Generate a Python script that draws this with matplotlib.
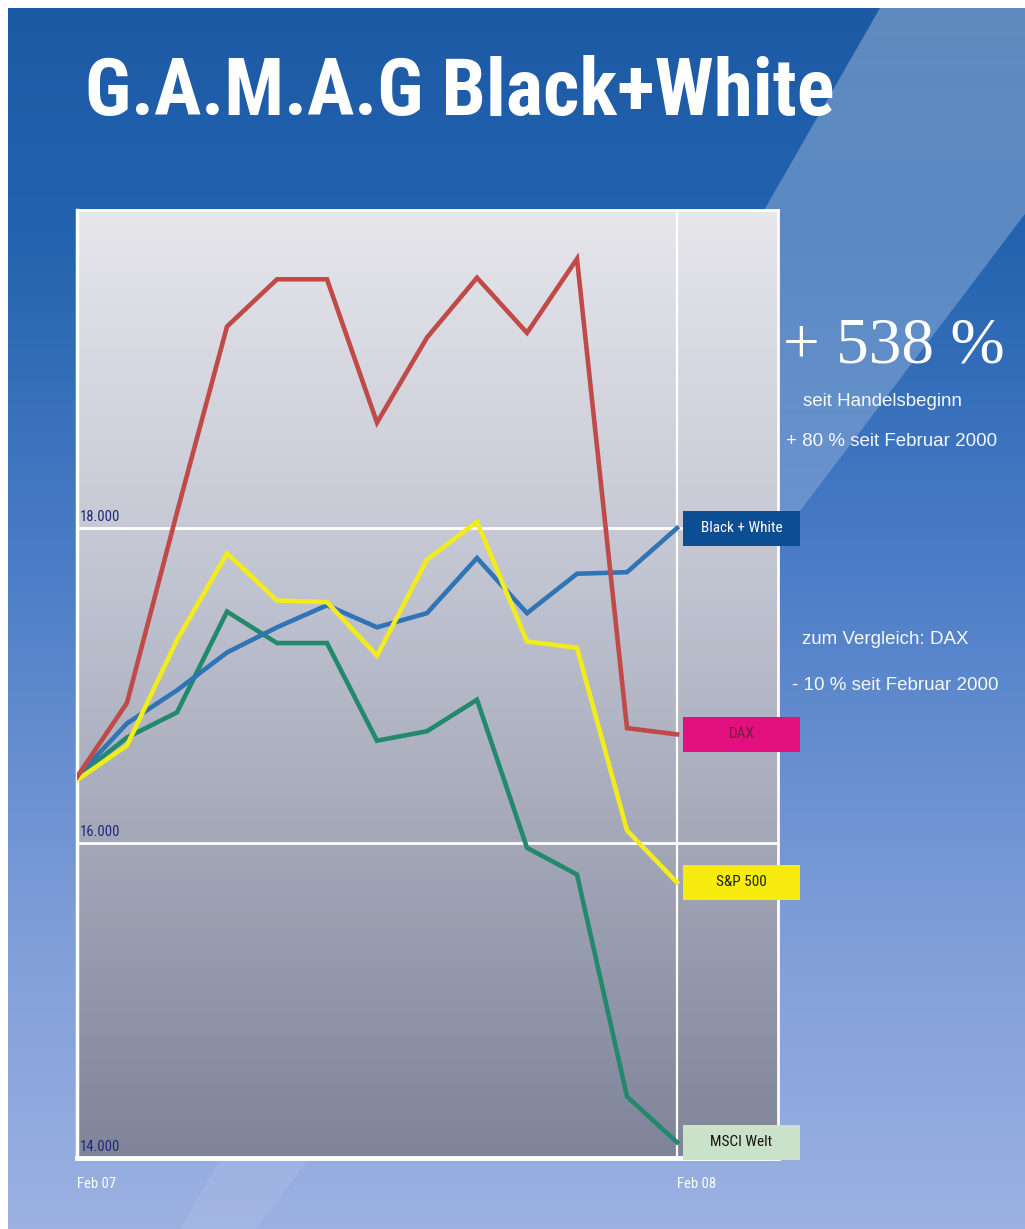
import numpy as np
import matplotlib
matplotlib.use("Agg")
import matplotlib.pyplot as plt
import matplotlib.transforms as mtransforms
from matplotlib.patches import Polygon, Rectangle
from matplotlib.colors import LinearSegmentedColormap
from matplotlib import font_manager as fm

# ---------------- data ----------------
months = ["Feb 07", "Mär 07", "Apr 07", "Mai 07", "Jun 07", "Jul 07", "Aug 07",
          "Sep 07", "Okt 07", "Nov 07", "Dez 07", "Jan 08", "Feb 08"]
x_tick_labels = ["Feb 07", "Feb 08"]
y_ticks = [14000, 16000, 18000]
y_tick_labels = ["14.000", "16.000", "18.000"]

black_white = [16420, 16760, 16970, 17210, 17370, 17510, 17370, 17460, 17810, 17460, 17710, 17720, 18000]
dax = [16420, 16890, 18100, 19280, 19580, 19580, 18670, 19210, 19590, 19240, 19710, 16730, 16690]
sp500 = [16400, 16620, 17290, 17840, 17540, 17530, 17190, 17800, 18040, 17280, 17240, 16080, 15750]
msci_welt = [16420, 16670, 16830, 17470, 17270, 17270, 16650, 16710, 16910, 15970, 15800, 14390, 14100]

series_names = ["MSCI Welt", "Black + White", "S&P 500", "DAX"]
series_values = [msci_welt, black_white, sp500, dax]
line_colors = ["#23896c", "#2f74b5", "#f2ec1c", "#bf4a48"]
box_colors = ["#c9e2c9", "#0c4e93", "#f7ea0e", "#e3117f"]
box_text_colors = ["#111111", "#ffffff", "#222222", "#7a1a3a"]

title = "G.A.M.A.G Black+White"
big_note = "+ 538 %"
notes = ["seit Handelsbeginn", "+ 80 % seit Februar 2000",
         "zum Vergleich: DAX", "- 10 % seit Februar 2000"]

# ---------------- fonts ----------------
names = {f.name for f in fm.fontManager.ttflist}
def pick(cands, default):
    for c in cands:
        if c in names:
            return c
    return default

sans = pick(["Liberation Sans", "Arial", "DejaVu Sans"], "DejaVu Sans")
narrow = pick(["Liberation Sans Narrow", "Roboto Condensed", "DejaVu Sans Condensed"], sans)
serif = pick(["Liberation Serif", "DejaVu Serif"], "DejaVu Serif")
title_font = pick(["Roboto Condensed", "Liberation Sans Narrow", "DejaVu Sans Condensed"], "DejaVu Sans")

W, H = 1025, 1229
fig = plt.figure(figsize=(W / 100, H / 100), dpi=100)

# ---------------- background ----------------
bg = fig.add_axes([0, 0, 1, 1])
bg.set_xlim(0, W)
bg.set_ylim(H, 0)
bg.axis("off")
bg_cmap = LinearSegmentedColormap.from_list(
    "bg", [(0.0, "#1d5aa6"), (0.18, "#2262ae"), (0.45, "#4a7cc6"),
           (0.75, "#7d9dd8"), (1.0, "#9cb1e2")])
grad = np.linspace(0, 1, 400).reshape(-1, 1)
bg.imshow(grad, cmap=bg_cmap, extent=[0, W, H, 0], aspect="auto", zorder=0)

# light diagonal band, fading towards the bottom
stripe = Polygon([(880, 8), (1181, 8), (256, 1229), (180, 1229)], closed=True,
                 facecolor="none", edgecolor="none")
bg.add_patch(stripe)
alpha = np.linspace(0.30, 0.07, 400).reshape(-1, 1)
rgba = np.ones((400, 1, 4))
rgba[..., 3] = alpha
im = bg.imshow(rgba, extent=[0, W, H, 0], aspect="auto", zorder=1)
im.set_clip_path(stripe)

bg.add_patch(Rectangle((0, 0), W, 8, facecolor="white", edgecolor="none", zorder=2))
bg.add_patch(Rectangle((0, 0), 8, H, facecolor="white", edgecolor="none", zorder=2))

# title
t = bg.text(85, 93, title, color="white", fontsize=60, fontweight="bold",
            family=title_font, fontstretch="condensed", va="center", ha="left", zorder=3)
fig.canvas.draw()
ext = t.get_window_extent()
fs = 60 * 750 / ext.width
t.set_fontsize(fs)

# right-hand notes
bg.text(783, 347, big_note, color="white", fontsize=47, family=serif,
        va="center", ha="left", zorder=3)
note_pos = [(803, 402), (786, 441), (802, 640), (792, 686)]
for (px, py), s in zip(note_pos, notes):
    bg.text(px, py, s, color="white", fontsize=13.5, family=sans,
            va="center", ha="left", zorder=3, alpha=0.95)

# ---------------- chart ----------------
ax = fig.add_axes([77 / W, 1 - 1158 / H, (778 - 77) / W, (1158 - 210) / H])
ax.set_zorder(5)
plot_cmap = LinearSegmentedColormap.from_list(
    "plot", [(0.0, "#7f8499"), (0.33, "#a3a7b8"), (0.66, "#c6c9d5"), (1.0, "#e6e6eb")])
ax.imshow(np.linspace(0, 1, 300).reshape(-1, 1), cmap=plot_cmap, origin="lower",
          extent=[0, 1, 0, 1], transform=ax.transAxes, aspect="auto", zorder=0)

x = np.arange(len(months))
ax.set_xlim(0, 14.02)
ax.set_ylim(14000, 20020)

ax.set_yticks(y_ticks)
ax.set_yticklabels([])
ax.tick_params(axis="y", length=0)
ax.grid(axis="y", color="white", linewidth=2, zorder=1)
ax.axvline(x[-1], color="white", linewidth=1.6, zorder=1)

for vals, col in zip(series_values, line_colors):
    ax.plot(x, vals, color=col, linewidth=3.3, solid_joinstyle="miter", zorder=3)

# y tick labels inside the plot
off = mtransforms.offset_copy(ax.transData, fig=fig, x=0, y=4, units="dots")
for v, lab in zip(y_ticks, y_tick_labels):
    ax.text(0.06, v, lab, transform=off, color="#1b2a78", fontsize=10.5,
            family=narrow, va="bottom", ha="left", zorder=4)

# x tick labels
ax.set_xticks([x[0], x[-1]])
ax.set_xticklabels(x_tick_labels, color="white", fontsize=10.5, family=narrow, ha="left")
ax.tick_params(axis="x", length=0, pad=14)

for side, sp in ax.spines.items():
    sp.set_color("white")
    sp.set_linewidth(2)
ax.spines["bottom"].set_linewidth(3.5)
ax.spines["left"].set_linewidth(2.5)

# series label boxes at the last value
box_h = 222
box_x0 = x[-1] + 0.12
box_w = 2.34
for name, vals, fc, tc in zip(series_names, series_values, box_colors, box_text_colors):
    v = vals[-1]
    ax.add_patch(Rectangle((box_x0, v - box_h / 2), box_w, box_h, facecolor=fc,
                           edgecolor="none", clip_on=False, zorder=6))
    ax.text(box_x0 + box_w / 2, v, name, color=tc, fontsize=11, family=narrow,
            ha="center", va="center", clip_on=False, zorder=7)

fig.savefig("out.png", dpi=100)
